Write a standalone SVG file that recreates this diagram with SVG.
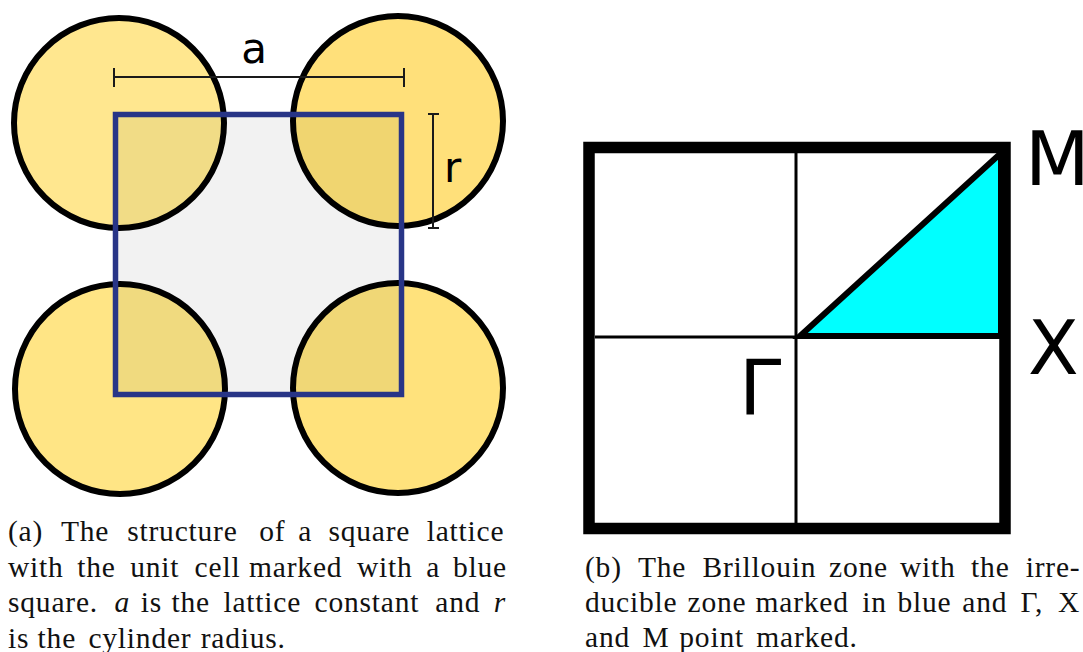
<svg xmlns="http://www.w3.org/2000/svg" width="1083" height="652" viewBox="0 0 1083 652">
<style>
.ring{fill:none;stroke:#000;stroke-width:6}
.dim{stroke:#1a1a1a;stroke-width:2;fill:none}
.lbl{font-family:"DejaVu Sans",sans-serif;fill:#000}
.cap{font-family:"Liberation Serif","Times New Roman",serif;font-size:29.5px;letter-spacing:0.8px;fill:#111}
.it{font-style:italic}
.thin{stroke:#000;stroke-width:3}
</style>
<defs>
<clipPath id="cellClip"><rect x="115.5" y="114.5" width="286" height="280"/></clipPath>
</defs>
<rect width="1083" height="652" fill="#fff"/>
<g id="lattice">
  <circle cx="119" cy="123" r="105" fill="#ffe78f"/>
  <circle cx="398" cy="121" r="105" fill="#ffe07a"/>
  <circle cx="120" cy="389" r="105" fill="#ffe585"/>
  <circle cx="398" cy="388" r="105" fill="#ffe27c"/>
  <rect x="115.5" y="114.5" width="286" height="280" fill="#f2f2f2"/>
  <g clip-path="url(#cellClip)">
    <circle cx="119" cy="123" r="105" fill="#f1dc86"/>
    <circle cx="398" cy="121" r="105" fill="#f0d570"/>
    <circle cx="120" cy="389" r="105" fill="#f0da7f"/>
    <circle cx="398" cy="388" r="105" fill="#f0d776"/>
  </g>
  <g id="cyl-tl"><circle class="ring" cx="119" cy="123" r="105"/></g>
  <g id="cyl-tr"><circle class="ring" cx="398" cy="121" r="105"/></g>
  <g id="cyl-bl"><circle class="ring" cx="120" cy="389" r="105"/></g>
  <g id="cyl-br"><circle class="ring" cx="398" cy="388" r="105"/></g>
  <g id="unit-cell"><rect x="115.5" y="114.5" width="286" height="280" fill="none" stroke="#283587" stroke-width="5.5"/></g>
  <g id="dim-a">
    <path class="dim" d="M114 77H404M114 68V87M404 68V87"/>
    <text class="lbl" x="254" y="63" font-size="42" text-anchor="middle">a</text>
  </g>
  <g id="dim-r">
    <path class="dim" d="M433 114V228M428 114H439M428 228H439" stroke-width="1.6"/>
    <text class="lbl" x="444" y="182" font-size="42">r</text>
  </g>
</g>
<g id="brillouin">
  <rect x="589" y="147.5" width="416" height="381" fill="#fff" stroke="#000" stroke-width="11.5"/>
  <g id="grid">
    <line class="thin" x1="796" y1="153" x2="796" y2="523"/>
    <line class="thin" x1="595" y1="337" x2="999" y2="337"/>
  </g>
  <g id="irreducible"><polygon points="800,336 1001,336 1001,153" fill="#00ffff" stroke="#000" stroke-width="6" stroke-linejoin="miter"/></g>
  <g id="lbl-M"><text class="lbl" x="1025" y="185" font-size="75">M</text></g>
  <g id="lbl-X"><text class="lbl" x="1028" y="374" font-size="74">X</text></g>
  <g id="lbl-G"><text class="lbl" x="739" y="415" font-size="76">Γ</text></g>
</g>
<g id="caption-a" class="cap">
  <text y="541"><tspan x="8">(a)</tspan><tspan x="61">The</tspan><tspan x="127.2">structure</tspan><tspan x="259.2">of</tspan><tspan x="298.3">a</tspan><tspan x="328.4">square</tspan><tspan x="426.7">lattice</tspan></text>
  <text y="576.5"><tspan x="8">with</tspan><tspan x="77.3">the</tspan><tspan x="130.2">unit</tspan><tspan x="194.6">cell</tspan><tspan x="249.1">marked</tspan><tspan x="357">with</tspan><tspan x="426.3">a</tspan><tspan x="452.9">blue</tspan></text>
  <text y="612"><tspan x="8">square.</tspan><tspan x="114.4" class="it">a</tspan><tspan x="140.8">is</tspan><tspan x="171.5">the</tspan><tspan x="223.4">lattice</tspan><tspan x="314.5">constant</tspan><tspan x="435.3">and</tspan><tspan x="493.7" class="it">r</tspan></text>
  <text y="647.5"><tspan x="8">is</tspan><tspan x="37.6">the</tspan><tspan x="88.4">cylinder</tspan><tspan x="200.7">radius.</tspan></text>
</g>
<g id="caption-b" class="cap">
  <text y="577"><tspan x="585">(b)</tspan><tspan x="638">The</tspan><tspan x="702.5">Brillouin</tspan><tspan x="829">zone</tspan><tspan x="900">with</tspan><tspan x="971.1">the</tspan><tspan x="1025.7">irre-</tspan></text>
  <text y="612"><tspan x="585">ducible</tspan><tspan x="687.5">zone</tspan><tspan x="755.5">marked</tspan><tspan x="862.2">in</tspan><tspan x="897.5">blue</tspan><tspan x="962.3">and</tspan><tspan x="1020.6">Γ,</tspan><tspan x="1057.9">X</tspan></text>
  <text y="647"><tspan x="585">and</tspan><tspan x="642.4">M</tspan><tspan x="679.3">point</tspan><tspan x="756.3">marked.</tspan></text>
</g>
</svg>
